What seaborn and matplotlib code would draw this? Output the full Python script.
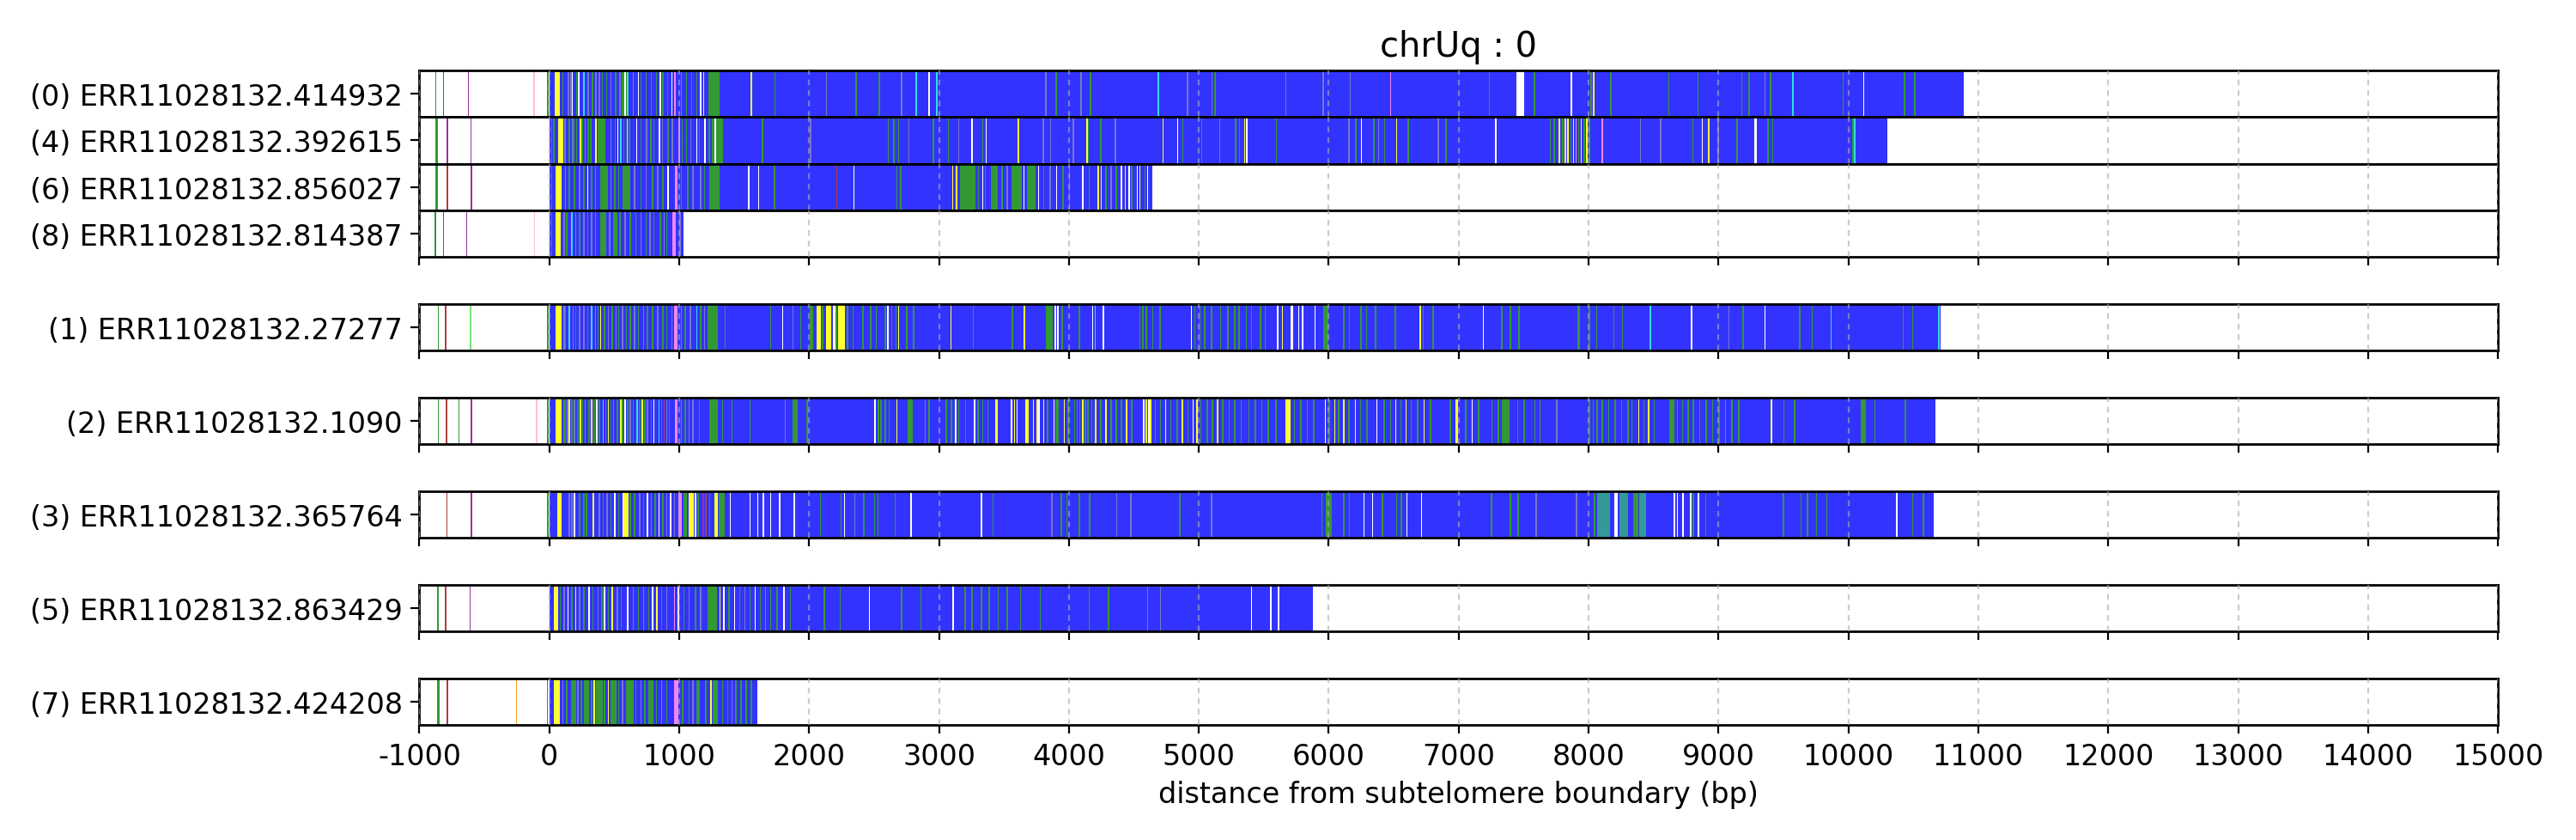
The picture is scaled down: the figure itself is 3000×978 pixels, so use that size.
import matplotlib
matplotlib.use("Agg")
import matplotlib.pyplot as plt
import seaborn as sns
import pandas as pd

# ---------------- data ----------------
read_labels = ["(0) ERR11028132.414932", "(4) ERR11028132.392615",
               "(6) ERR11028132.856027", "(8) ERR11028132.814387",
               "(1) ERR11028132.27277", "(2) ERR11028132.1090",
               "(3) ERR11028132.365764", "(5) ERR11028132.863429",
               "(7) ERR11028132.424208"]
read_starts = [0, 0, 0, 0, 0, 0, 0, 0, 0]
read_ends = [10890, 10300, 4640, 1030, 10712, 10668, 10659, 5878, 1604]

xticks_vals = list(range(-1000, 15001, 1000))
title_text = "chrUq : 0"
xlabel_text = "distance from subtelomere boundary (bp)"

# marks: (position, code) thin line, or (position, width, code)
r0_marks = [(-880, 'g'), (-819, 'r'), (-628, 'm'), (-122, 'l'), (-15, 'g'),
            (40, 44, 'y'), (99, 'g'), (143, 's'), (161, 's'), (172, 'w'), (205, 'g'), (223, 'w'),
            (262, 'c'), (293, 's'), (326, 'g'), (355, 's'), (381, 's'), (403, 'g'), (436, 'g'),
            (469, 's'), (506, 'g'), (539, 's'), (557, 'g'), (560, 40, 'g'), (579, 'w'), (600, 'c'),
            (640, 's'), (680, 'w'), (700, 'g'), (740, 'g'), (780, 'g'), (820, 'g'), (850, 'w'),
            (870, 'g'), (905, 'g'), (940, 'w'), (958, 18, 'p'), (1010, 's'), (1050, 'g'),
            (1090, 'g'), (1130, 'g'), (1160, 'w'), (1184, 'y'), (1225, 85, 'g'), (1550, 'y'),
            (1733, 'g'), (2129, 's'), (2356, 'g'), (2535, 'g'), (2707, 's'), (2818, 'c'),
            (2920, 'w'), (2977, 'c'), (3816, 's'), (3897, 'g'), (4089, 's'), (4160, 'g'),
            (4683, 'c'), (4909, 's'), (5095, 's'), (5118, 'g'), (5665, 's'), (5954, 's'),
            (6160, 's'), (6471, 'p'), (7232, 'g'), (7445, 57, 'w'), (7578, 'g'), (7863, 'w'),
            (8015, 'g'), (8035, 'y'), (8167, 'g'), (8612, 'g'), (8837, 'g'), (9175, 'g'),
            (9232, 'g'), (9354, 's'), (9395, 'g'), (9567, 'c'), (9954, 'g'), (10114, 'w'),
            (10426, 'g'), (10506, 'g')]

r4_marks = [(-875, 15, 'g'), (-790, 'm'), (-607, 'm'), (14, 'g'),
            (29, 'g'), (66, 40, 'y'), (117, 's'), (150, 'g'), (172, 's'), (183, 'g'), (205, 'g'),
            (234, 'y'), (249, 'g'), (271, 's'), (293, 'g'), (315, 'g'), (355, 'y'), (370, 59, 'g'),
            (469, 's'), (502, 'g'), (524, 'w'), (546, 'c'), (568, 'g'), (594, 'y'), (612, 'g'),
            (667, 'w'), (700, 'g'), (744, 's'), (777, 'g'), (799, 'g'), (843, 'w'), (865, 's'),
            (909, 'g'), (942, 's'), (993, 15, 'p'), (1019, 'g'), (1052, 'g'), (1085, 's'),
            (1129, 'w'), (1151, 'g'), (1195, 'w'), (1228, 'g'), (1250, 88, 'g'), (1272, 'w'),
            (1637, 'g'), (2007, 's'), (2604, 'g'), (2649, 'g'), (2683, 'g'), (2764, 's'),
            (2953, 'g'), (3068, 'g'), (3146, 's'), (3250, 'w'), (3331, 'g'), (3358, 'w'),
            (3605, 'y'), (3797, 's'), (3854, 's'), (4030, 's'), (4134, 'y'), (4144, 'g'),
            (4242, 'g'), (4353, 's'), (4721, 'y'), (4832, 'w'), (4873, 'g'), (5018, 'g'),
            (5156, 's'), (5278, 'g'), (5308, 'g'), (5346, 'y'), (5365, 'w'), (5593, 'g'),
            (6152, 's'), (6202, 'g'), (6247, 'w'), (6342, 'g'), (6380, 's'), (6426, 'g'),
            (6517, 'y'), (6608, 'g'), (6837, 's'), (6897, 'g'), (7281, 'w'), (7700, 'g'),
            (7730, 'g'), (7770, 'y'), (7795, 'g'), (7815, 'y'), (7835, 'y'), (7860, 'g'),
            (7880, 'y'), (7900, 'p'), (7920, 'g'), (7940, 'y'), (7960, 'g'), (7980, 'y'),
            (8000, 'g'), (8099, 'p'), (8395, 's'), (8551, 's'), (8798, 'g'), (8871, 'w'),
            (8920, 'y'), (8992, 's'), (9137, 'g'), (9278, 15, 'w'), (9376, 'g'), (9411, 'g'),
            (10030, 'g'), (10045, 'c')]

r6_marks = [(-875, 15, 'g'), (-790, 'r'), (-605, 'm'), (14, 'g'),
            (50, 47, 'y'), (120, 's'), (150, 'g'), (190, 'g'), (230, 's'), (260, 'g'), (290, 'w'),
            (320, 'g'), (350, 's'), (394, 57, 'g'), (470, 's'), (500, 'g'), (530, 'g'),
            (566, 57, 'g'), (650, 's'), (700, 'g'), (740, 's'), (790, 'g'), (830, 's'), (870, 'g'),
            (910, 'w'), (964, 23, 'p'), (1010, 'g'), (1060, 'g'), (1100, 's'), (1160, 's'),
            (1190, 'g'), (1230, 83, 'g'), (1530, 'w'), (1606, 'w'), (1729, 'g'), (2208, 'r'),
            (2340, 'w'), (2671, 'g'), (2702, 'g'), (3100, 'y'), (3130, 'y'), (3162, 118, 'g'),
            (3300, 'g'), (3330, 'w'), (3350, 'g'), (3400, 50, 'g'), (3480, 'g'), (3520, 's'),
            (3560, 80, 'g'), (3650, 'w'), (3680, 60, 'g'), (3760, 'w'), (3800, 'g'), (3850, 's'),
            (3900, 'w'), (3950, 'g'), (4000, 's'), (4100, 'w'), (4150, 'g'), (4220, 'y'),
            (4245, 'y'), (4280, 'g'), (4320, 's'), (4360, 'g'), (4400, 'w'), (4430, 'y'),
            (4460, 'w'), (4480, 'g'), (4520, 'w'), (4540, 'y'), (4580, 'g'), (4600, 'w')]

r8_marks = [(-883, 'g'), (-820, 'r'), (-640, 'm'), (-118, 'l'), (15, 'g'),
            (48, 40, 'y'), (110, 's'), (130, 'g'), (170, 'c'), (200, 's'), (230, 'g'), (260, 's'),
            (290, 'g'), (320, 's'), (350, 's'), (391, 49, 'g'), (460, 's'), (494, 27, 'g'),
            (540, 'g'), (580, 's'), (620, 'g'), (660, 'g'), (700, 's'), (740, 'g'), (770, 's'),
            (800, 'g'), (850, 'g'), (880, 's'), (900, 'g'), (947, 27, 'p'), (1000, 's')]

r1_marks = [(-859, 'g'), (-802, 'r'), (-612, 'h'), (-15, 'g'),
            (47, 46, 'y'), (110, 's'), (120, 'g'), (150, 'c'), (180, 's'), (200, 'g'), (230, 's'),
            (260, 's'), (290, 'g'), (320, 'c'), (350, 's'), (370, 'g'), (390, 'y'), (420, 'g'),
            (450, 's'), (480, 'g'), (510, 's'), (530, 'g'), (560, 's'), (590, 'g'), (620, 'g'),
            (650, 's'), (680, 'g'), (720, 's'), (750, 'g'), (790, 'g'), (830, 's'), (870, 'g'),
            (900, 'g'), (940, 's'), (959, 27, 'p'), (1010, 's'), (1040, 'g'), (1080, 's'),
            (1129, 'c'), (1160, 'g'), (1190, 's'), (1216, 83, 'g'), (1350, 'g'), (1700, 'g'),
            (1790, 'w'), (1870, 's'), (1930, 'g'), (2005, 28, 'g'), (2055, 35, 'y'), (2100, 'g'),
            (2129, 41, 'y'), (2184, 'w'), (2197, 'w'), (2205, 'g'), (2225, 49, 'y'), (2290, 'g'),
            (2334, 'g'), (2411, 'g'), (2470, 'g'), (2512, 'g'), (2581, 'g'), (2600, 'w'),
            (2630, 'g'), (2663, 'g'), (2685, 'y'), (2745, 'g'), (2800, 'g'), (3088, 'y'),
            (3260, 'g'), (3559, 'g'), (3650, 16, 'y'), (3822, 55, 'g'), (3890, 'w'), (3910, 'w'),
            (3942, 'g'), (4074, 'g'), (4177, 'w'), (4199, 'c'), (4261, 'w'), (4540, 'g'),
            (4565, 'g'), (4590, 'g'), (4640, 'g'), (4695, 'g'), (4938, 'w'), (4965, 'g'),
            (5005, 'g'), (5040, 'g'), (5093, 'g'), (5164, 'g'), (5218, 'g'), (5270, 'g'),
            (5305, 'g'), (5360, 'g'), (5400, 'g'), (5470, 'g'), (5505, 'g'), (5602, 'w'),
            (5637, 'y'), (5703, 23, 'w'), (5765, 'w'), (5792, 'w'), (5889, 'w'), (5956, 44, 'g'),
            (6110, 'g'), (6155, 'g'), (6243, 'g'), (6287, 'g'), (6354, 'g'), (6509, 'g'),
            (6700, 'y'), (6721, 'g'), (6797, 'g'), (7186, 'w'), (7328, 'g'), (7394, 'g'),
            (7460, 'g'), (7916, 18, 'g'), (8000, 'g'), (8058, 'g'), (8190, 'g'), (8257, 'g'),
            (8469, 'c'), (8788, 'w'), (9075, 's'), (9186, 'g'), (9354, 'w'), (9620, 'g'),
            (9717, 'g'), (9863, 'c'), (10416, 'g'), (10491, 'g'), (10690, 15, 'c')]

r2_marks = [(-859, 'g'), (-796, 'r'), (-701, 'g'), (-603, 'm'), (-103, 'l'), (-15, 'g'),
            (47, 46, 'y'), (110, 'g'), (120, 'g'), (135, 's'), (150, 'y'), (170, 'g'), (190, 's'),
            (215, 'g'), (235, 'y'), (250, 'g'), (270, 's'), (300, 'g'), (320, 'y'), (340, 'g'),
            (360, 'w'), (380, 'g'), (410, 'c'), (430, 'g'), (450, 'y'), (470, 'g'), (490, 's'),
            (520, 'g'), (545, 'y'), (560, 'g'), (580, 'w'), (600, 'g'), (620, 's'), (640, 'g'),
            (670, 'c'), (690, 'g'), (710, 'y'), (730, 'g'), (750, 's'), (780, 'g'), (800, 'w'),
            (840, 'c'), (860, 'g'), (880, 'm'), (900, 's'), (920, 'g'), (964, 22, 'p'),
            (1010, 's'), (1040, 'g'), (1070, 's'), (1100, 's'), (1150, 'g'), (1230, 69, 'g'),
            (1330, 'g'), (1400, 'g'), (1540, 'g'), (1810, 's'), (1874, 36, 'g'), (1980, 'g'),
            (2501, 'w'), (2530, 'g'), (2550, 'g'), (2580, 'g'), (2610, 'g'), (2670, 'y'),
            (2760, 35, 'g'), (2890, 's'), (2920, 'g'), (3050, 'g'), (3090, 'g'), (3125, 'w'),
            (3145, 'g'), (3200, 'g'), (3270, 'w'), (3295, 'g'), (3330, 'g'), (3370, 'g'),
            (3430, 25, 'y'), (3553, 'w'), (3575, 'y'), (3595, 'w'), (3663, 27, 'y'), (3720, 'y'),
            (3750, 'y'), (3765, 'w'), (3800, 'y'), (3830, 'g'), (3880, 'w'), (3896, 27, 'g'),
            (3960, 'y'), (3990, 'g'), (4040, 'g'), (4060, 'g'), (4080, 'g'), (4100, 'y'),
            (4120, 'g'), (4140, 'g'), (4170, 'g'), (4200, 'y'), (4240, 'g'), (4280, 'y'),
            (4320, 'g'), (4360, 'g'), (4400, 'g'), (4440, 'y'), (4480, 'g'), (4571, 'w'),
            (4590, 'y'), (4610, 'w'), (4625, 'y'), (4660, 'g'), (4700, 'g'), (4740, 'y'),
            (4780, 'g'), (4830, 'g'), (4870, 'y'), (4910, 'g'), (4950, 'w'), (4980, 'y'),
            (5010, 'g'), (5060, 'g'), (5100, 'g'), (5140, 'y'), (5180, 'g'), (5230, 'g'),
            (5270, 'g'), (5320, 'g'), (5380, 'g'), (5430, 'g'), (5480, 'g'), (5530, 'g'),
            (5590, 'g'), (5668, 35, 'y'), (5730, 'g'), (5780, 'g'), (5830, 'g'), (5880, 'g'),
            (5969, 'w'), (6000, 'g'), (6040, 'y'), (6070, 'g'), (6110, 'y'), (6150, 'g'),
            (6200, 'y'), (6240, 'g'), (6290, 'g'), (6367, 'w'), (6420, 'g'), (6470, 'g'),
            (6510, 'y'), (6550, 'g'), (6590, 'y'), (6630, 'g'), (6680, 'g'), (6730, 'y'),
            (6780, 'g'), (6930, 'g'), (6973, 23, 'y'), (7050, 'g'), (7100, 'w'), (7150, 'g'),
            (7250, 'g'), (7300, 'g'), (7330, 60, 'g'), (7450, 'g'), (7500, 'g'), (7580, 'g'),
            (7620, 'g'), (7750, 's'), (8000, 'g'), (8030, 'g'), (8060, 'g'), (8100, 'g'),
            (8150, 'g'), (8200, 'g'), (8250, 'g'), (8300, 'g'), (8330, 'g'), (8380, 'y'),
            (8420, 'g'), (8456, 'y'), (8500, 'g'), (8620, 40, 'g'), (8680, 'g'), (8720, 'g'),
            (8760, 'g'), (8800, 'g'), (8850, 'g'), (8900, 'g'), (8950, 'g'), (9000, 'g'),
            (9050, 's'), (9100, 'g'), (9150, 'g'), (9400, 15, 'y'), (9407, 'w'), (9500, 'g'),
            (9580, 'g'), (10093, 44, 'g'), (10200, 'g'), (10434, 'g')]

r3_marks = [(-793, 'r'), (-603, 'm'), (-15, 'g'),
            (60, 33, 'y'), (150, 's'), (170, 's'), (190, 'w'), (230, 'g'), (260, 'g'), (280, 'g'),
            (334, 14, 'y'), (380, 's'), (410, 'g'), (440, 's'), (470, 'g'), (500, 'w'), (530, 'g'),
            (561, 12, 'w'), (573, 35, 'y'), (620, 'g'), (650, 'g'), (690, 's'), (720, 'g'),
            (750, 'w'), (780, 's'), (810, 'g'), (840, 'w'), (870, 'g'), (900, 's'), (930, 'w'),
            (960, 's'), (992, 27, 'p'), (1030, 30, 'g'), (1074, 41, 'y'), (1120, 'w'),
            (1140, 'g'), (1180, 'm'), (1200, 'r'), (1230, 'g'), (1270, 25, 'y'), (1307, 41, 'g'),
            (1389, 'w'), (1540, 'w'), (1600, 'w'), (1644, 'w'), (1699, 'w'), (1767, 'w'),
            (1882, 'w'), (2082, 'g'), (2241, 'g'), (2268, 'w'), (2348, 's'), (2416, 'g'),
            (2499, 'g'), (2526, 'g'), (2658, 'g'), (2778, 'w'), (3321, 'w'), (3411, 'g'),
            (3863, 's'), (3937, 'g'), (3978, 'g'), (4074, 'g'), (4155, 'g'), (4363, 's'),
            (4473, 's'), (4850, 'g'), (5093, 's'), (5943, 'g'), (5978, 44, 'g'), (6110, 'g'),
            (6155, 'g'), (6265, 'w'), (6332, 'w'), (6407, 'g'), (6518, 'g'), (6553, 'g'),
            (6597, 'w'), (6708, 'w'), (7248, 'g'), (7394, 'g'), (7452, 'g'), (7593, 's'),
            (7903, 's'), (8040, 'g'), (8067, 100, 't'), (8199, 27, 'w'), (8235, 66, 't'),
            (8345, 40, 'g'), (8390, 53, 't'), (8655, 'w'), (8680, 'w'), (8721, 'w'), (8780, 'w'),
            (8800, 'g'), (8840, 'w'), (8898, 'g'), (9496, 'g'), (9629, 'g'), (9680, 'g'),
            (9750, 'g'), (9828, 'g'), (10367, 'w'), (10491, 'g'), (10571, 'g')]

r5_marks = [(-861, 'g'), (-802, 'r'), (-613, 'm'),
            (38, 30, 'y'), (80, 'g'), (110, 's'), (140, 'w'), (170, 'g'), (200, 'y'), (230, 's'),
            (260, 'g'), (300, 'w'), (330, 'g'), (370, 's'), (400, 'g'), (420, 'w'), (450, 'g'),
            (480, 'y'), (520, 's'), (550, 'g'), (600, 'w'), (640, 's'), (680, 'g'), (720, 's'),
            (760, 'g'), (790, 'w'), (819, 19, 'y'), (860, 'g'), (900, 's'), (958, 12, 'p'),
            (990, 'w'), (1030, 'g'), (1070, 's'), (1120, 'g'), (1160, 's'), (1215, 75, 'g'),
            (1310, 'y'), (1340, 'w'), (1380, 'g'), (1420, 'w'), (1460, 'g'), (1500, 's'),
            (1540, 'g'), (1580, 'w'), (1620, 'g'), (1660, 's'), (1700, 'g'), (1750, 'g'),
            (1800, 'w'), (1850, 'g'), (2113, 'g'), (2234, 'g'), (2460, 'w'), (2706, 'g'),
            (2857, 'g'), (3102, 'w'), (3196, 'g'), (3250, 'g'), (3320, 'g'), (3380, 'g'),
            (3450, 'g'), (3520, 'g'), (3623, 'g'), (3774, 'g'), (4150, 'g'), (4300, 'g'),
            (4600, 's'), (4700, 's'), (5400, 'w'), (5550, 'w'), (5610, 'w')]

r7_marks = [(-862, 15, 'g'), (-791, 'r'), (-256, 'o'), (-18, 'g'),
            (38, 45, 'y'), (100, 's'), (130, 'g'), (170, 35, 'g'), (215, 's'), (240, 'g'),
            (265, 40, 'g'), (320, 'g'), (340, 'y'), (360, 50, 'g'), (420, 'g'), (450, 'y'),
            (470, 45, 'g'), (530, 'g'), (560, 's'), (590, 60, 'g'), (660, 'g'), (700, 's'),
            (730, 'g'), (760, 40, 'g'), (820, 'g'), (860, 's'), (900, 'g'), (958, 38, 'p'),
            (1020, 'g'), (1070, 'g'), (1100, 's'), (1130, 30, 'g'), (1200, 'g'), (1240, 'y'),
            (1260, 40, 'g'), (1330, 'g'), (1370, 'g'), (1400, 's'), (1430, 'g'), (1470, 'g'),
            (1510, 'g'), (1550, 'g')]

read_marks = [r0_marks, r4_marks, r6_marks, r8_marks, r1_marks,
              r2_marks, r3_marks, r5_marks, r7_marks]

# ---------------- style ----------------
mark_colors = {'g': '#339933', 'y': '#ffff33', 'w': '#ffffff', 's': '#7777cc',
               'c': '#33dddd', 'p': '#ee88ee', 'r': '#b03c3c', 'm': '#993399',
               'l': '#ffc0cb', 'o': '#ffa033', 't': '#339999', 'h': '#77dd77'}
base_color = '#3333ff'
thin_width = 10
panel_rows = [0, 1, 2, 3, 5, 7, 9, 11, 13]
n_rows = 14

sns.set_style("ticks", {"axes.edgecolor": "black", "xtick.color": "black",
                        "ytick.color": "black", "axes.linewidth": 1.0})
plt.rcParams['font.family'] = ['DejaVu Sans']
plt.rcParams['font.size'] = 12

fig = plt.figure(figsize=(15, 4.895), dpi=200)
left, right, top, bottom = 0.1628, 0.9697, 0.9157, 0.1365
unit = (top - bottom) / n_rows

axes = []
for i, label in enumerate(read_labels):
    r = panel_rows[i]
    ax = fig.add_axes([left, top - (r + 1) * unit, right - left, unit])
    axes.append(ax)
    ax.barh([0], [read_ends[i] - read_starts[i]], left=[read_starts[i]], height=1.0,
            color=base_color, linewidth=0, zorder=1)
    rows = []
    for m in read_marks[i]:
        if len(m) == 2:
            rows.append((m[0], thin_width, m[1]))
        else:
            rows.append(m)
    df = pd.DataFrame(rows, columns=['pos', 'width', 'code'])
    ax.barh([0] * len(df), df['width'], left=df['pos'], height=1.0,
            color=[mark_colors[c] for c in df['code']], linewidth=0, zorder=1.5)
    ax.set_xlim(xticks_vals[0], xticks_vals[-1])
    ax.set_ylim(-0.5, 0.5)
    ax.set_yticks([0])
    ax.set_yticklabels([label], fontsize=12)
    ax.set_xticks(xticks_vals)
    ax.set_axisbelow(False)
    ax.grid(axis='x', color='#aaaaaa', alpha=0.6, linestyle=(0, (3, 2.5)), linewidth=0.8)
    for s in ax.spines.values():
        s.set_visible(True)
        s.set_linewidth(1.0)
        s.set_color('black')
    ax.tick_params(axis='both', length=3.5, width=0.8, color='black', labelcolor='black')
    if i == len(read_labels) - 1:
        ax.set_xticklabels([str(v) for v in xticks_vals], fontsize=12)
        ax.set_xlabel(xlabel_text, fontsize=12, color='black')
    else:
        ax.set_xticklabels([])
    if i in (0, 1, 2):
        ax.tick_params(axis='x', bottom=False)

axes[0].set_title(title_text, fontsize=14.4, color='black')

fig.savefig("out.png", dpi=200)
